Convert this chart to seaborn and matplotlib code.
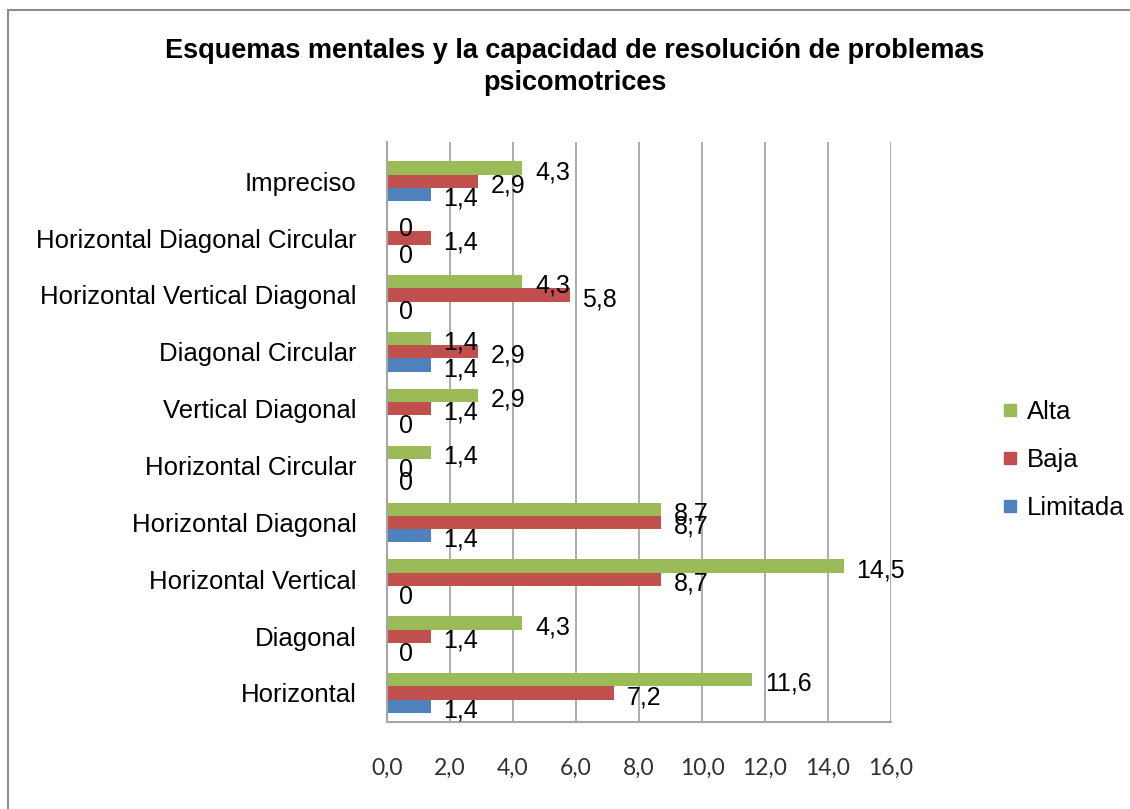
import matplotlib
matplotlib.use("Agg")
import matplotlib.pyplot as plt
import seaborn as sns
import pandas as pd
from matplotlib.lines import Line2D
from matplotlib.patches import Rectangle

categories = ["Impreciso", "Horizontal Diagonal Circular", "Horizontal Vertical Diagonal",
              "Diagonal Circular", "Vertical Diagonal", "Horizontal Circular",
              "Horizontal Diagonal", "Horizontal Vertical", "Diagonal", "Horizontal"]
alta = [4.3, 0, 4.3, 1.4, 2.9, 1.4, 8.7, 14.5, 4.3, 11.6]
baja = [2.9, 1.4, 5.8, 2.9, 1.4, 0, 8.7, 8.7, 1.4, 7.2]
limitada = [1.4, 0, 0, 1.4, 0, 0, 1.4, 0, 0, 1.4]
series_names = ["Alta", "Baja", "Limitada"]
colors = ["#9BBB59", "#C0504D", "#4F81BD"]
xticks = [0, 2, 4, 6, 8, 10, 12, 14, 16]

rows = []
for name, vals in zip(series_names, [alta, baja, limitada]):
    for c, v in zip(categories, vals):
        rows.append({"cat": c, "serie": name, "valor": v})
df = pd.DataFrame(rows)

sns.set_theme(style="white")
plt.rcParams["font.family"] = ["Liberation Sans", "DejaVu Sans"]
plt.rcParams["text.color"] = "black"
plt.rcParams["ytick.color"] = "black"
plt.rcParams["ytick.labelcolor"] = "black"

fig = plt.figure(figsize=(11.3, 8.09), dpi=100)
W, H = 1130, 809
ax = fig.add_axes([387 / W, 87 / H, 504 / W, 580 / H])

sns.barplot(data=df, y="cat", x="valor", hue="serie", order=categories,
            hue_order=series_names, palette=colors, orient="h", width=0.7,
            saturation=1, ax=ax, legend=False, errorbar=None, linewidth=0)

ax.set_xlim(0, 16)
ax.set_ylim(9.51, -0.69)
ax.set_xticks(xticks)
ax.set_xticklabels([f"{t:.1f}".replace(".", ",") for t in xticks],
                   fontsize=16.5, family=["Lato", "DejaVu Sans"], color="#303030")
ax.tick_params(axis="x", length=0, pad=26)
ax.tick_params(axis="y", length=0, pad=22, labelsize=18.5, labelcolor="black")
ax.set_xlabel("")
ax.set_ylabel("")
ax.xaxis.grid(True, color="#A6A6A6", lw=1.3)
ax.set_axisbelow(True)
for s in ["top", "right"]:
    ax.spines[s].set_visible(False)
for s in ["left", "bottom"]:
    ax.spines[s].set_color("#A6A6A6")
    ax.spines[s].set_linewidth(1.5)

for cont in ax.containers:
    for p in cont.patches:
        v = p.get_width()
        txt = "0" if v == 0 else f"{v:.1f}".replace(".", ",")
        ax.annotate(txt, (p.get_x() + v, p.get_y() + p.get_height() / 2),
                    xytext=(9, -3), textcoords="offset points",
                    ha="left", va="center", fontsize=18, color="black")

fig.text(575 / W, 1 - 67 / H,
         "Esquemas mentales y la capacidad de resolución de problemas\npsicomotrices",
         ha="center", va="center", fontsize=19.5, fontweight="bold",
         linespacing=1.3, color="black")

handles = [Line2D([], [], marker="s", linestyle="none", markersize=9,
                  markerfacecolor=c, markeredgecolor=c) for c in colors]
leg = fig.legend(handles, series_names, loc="center left",
                 bbox_to_anchor=(992 / W, 1 - 460 / H), frameon=False,
                 fontsize=18.5, handlelength=0.6, handletextpad=0.35,
                 labelspacing=0.92, borderaxespad=0)
for t in leg.get_texts():
    t.set_color("black")

fig.patches.append(Rectangle((8 / W, -0.02), 1.05, 1 - 10 / H + 0.02,
                             transform=fig.transFigure, fill=False,
                             edgecolor="#8C8C8C", lw=1.5, clip_on=False))

fig.savefig("out.png", dpi=100)
